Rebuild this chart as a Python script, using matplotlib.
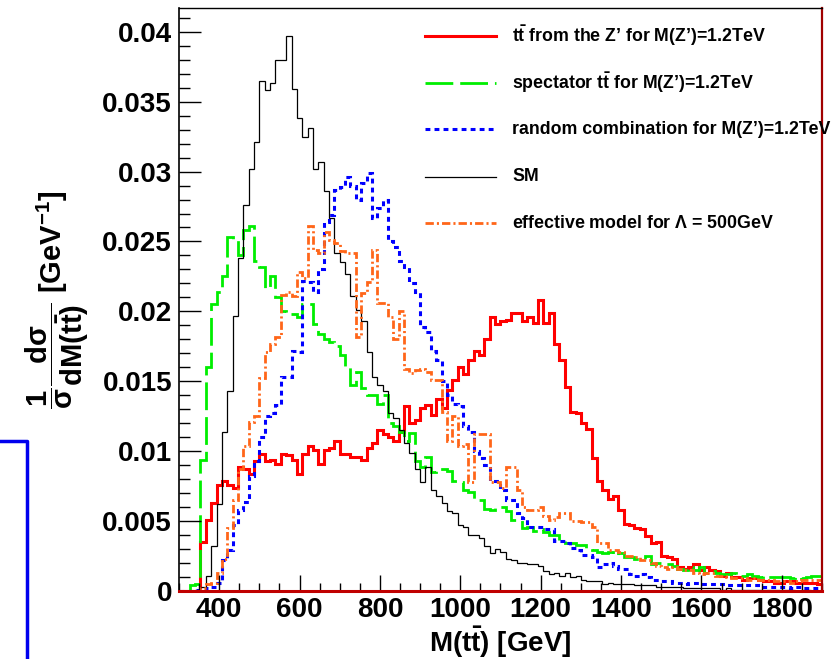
import numpy as np
import matplotlib
matplotlib.use("Agg")
import matplotlib.pyplot as plt
from matplotlib.ticker import MultipleLocator, FuncFormatter
from matplotlib.lines import Line2D

plt.rcParams['font.family'] = ['Liberation Sans', 'DejaVu Sans']
plt.rcParams['font.weight'] = 'bold'
plt.rcParams['mathtext.fontset'] = 'custom'
plt.rcParams['mathtext.rm'] = 'Liberation Sans:bold'
plt.rcParams['mathtext.it'] = 'Liberation Sans:bold'
plt.rcParams['mathtext.bf'] = 'Liberation Sans:bold'
plt.rcParams['mathtext.sf'] = 'Liberation Sans:bold'
plt.rcParams['lines.scale_dashes'] = False

# 120 bins of 13.33 GeV between 300 and 1900 GeV
edges = np.linspace(300, 1900, 121)

zprime = [
    0, 0, 0, 0, 0.0035, 0.0051, 0.0063, 0.0076, 0.0079, 0.0076,
    0.0074, 0.0089, 0.0087, 0.0084, 0.0093, 0.0098, 0.0093, 0.0094, 0.0091, 0.0098,
    0.0097, 0.0094, 0.0084, 0.0098, 0.0104, 0.0101, 0.0091, 0.0101, 0.0102, 0.0107,
    0.0098, 0.0098, 0.0096, 0.0096, 0.0094, 0.0102, 0.0106, 0.0115, 0.0112, 0.0110,
    0.0107, 0.0114, 0.0132, 0.0120, 0.0122, 0.0131, 0.0133, 0.0126, 0.0137, 0.0131,
    0.0144, 0.0151, 0.0160, 0.0155, 0.0165, 0.0172, 0.0169, 0.0180, 0.0196, 0.0191,
    0.0193, 0.0194, 0.0199, 0.0199, 0.0193, 0.0196, 0.0192, 0.0208, 0.0192, 0.0199,
    0.0177, 0.0165, 0.0146, 0.0128, 0.0127, 0.0120, 0.0116, 0.0095, 0.0079, 0.0072,
    0.0066, 0.0068, 0.0058, 0.0048, 0.0047, 0.0045, 0.0044, 0.0039, 0.0034, 0.0035,
    0.0025, 0.0024, 0.0023, 0.0017, 0.0016, 0.0017, 0.0019, 0.0015, 0.0017, 0.0015,
    0.0014, 0.0011, 0.0013, 0.0010, 0.0010, 0.0008, 0.0009, 0.0009, 0.0008, 0.0007,
    0.0007, 0.0006, 0.0006, 0.0007, 0.0007, 0.0006, 0.0006, 0.0006, 0.0006, 0.0005,
]

spectator = [
    0, 0, 0.0004, 0.0005, 0.0094, 0.0160, 0.0205, 0.0214, 0.0225, 0.0253,
    0.0252, 0.0240, 0.0258, 0.0261, 0.0236, 0.0232, 0.0217, 0.0225, 0.0210, 0.0200,
    0.0198, 0.0198, 0.0196, 0.0205, 0.0205, 0.0191, 0.0184, 0.0180, 0.0178, 0.0175,
    0.0169, 0.0160, 0.0147, 0.0157, 0.0145, 0.0140, 0.0140, 0.0134, 0.0140, 0.0120,
    0.0118, 0.0114, 0.0107, 0.0113, 0.0093, 0.0089, 0.0096, 0.0085, 0.0087, 0.0087,
    0.0086, 0.0079, 0.0078, 0.0072, 0.0071, 0.0065, 0.0065, 0.0059, 0.0058, 0.0060,
    0.0060, 0.0057, 0.0051, 0.0051, 0.0045, 0.0046, 0.0043, 0.0044, 0.0042, 0.0040,
    0.0040, 0.0036, 0.0034, 0.0034, 0.0033, 0.0033, 0.0031, 0.0029, 0.0028, 0.0027,
    0.0028, 0.0026, 0.0027, 0.0024, 0.0024, 0.0023, 0.0023, 0.0025, 0.0019, 0.0020,
    0.0019, 0.0019, 0.0018, 0.0016, 0.0015, 0.0017, 0.0015, 0.0017, 0.0013, 0.0014,
    0.0013, 0.0012, 0.0012, 0.0013, 0.0011, 0.0011, 0.0012, 0.0011, 0.0010, 0.0011,
    0.0010, 0.0010, 0.0010, 0.0010, 0.0009, 0.0010, 0.0009, 0.0010, 0.0011, 0.0011,
]

random_comb = [
    0, 0, 0, 0.0001, 0.0001, 0.0002, 0.0003, 0.0006, 0.0022, 0.0029,
    0.0047, 0.0058, 0.0064, 0.0082, 0.0093, 0.0110, 0.0125, 0.0127, 0.0133, 0.0153,
    0.0153, 0.0172, 0.0171, 0.0222, 0.0221, 0.0214, 0.0230, 0.0264, 0.0269, 0.0287,
    0.0289, 0.0296, 0.0290, 0.0280, 0.0292, 0.0299, 0.0267, 0.0274, 0.0280, 0.0250,
    0.0246, 0.0236, 0.0232, 0.0220, 0.0214, 0.0189, 0.0185, 0.0172, 0.0165, 0.0150,
    0.0140, 0.0134, 0.0132, 0.0118, 0.0114, 0.0100, 0.0095, 0.0090, 0.0079, 0.0079,
    0.0072, 0.0065, 0.0065, 0.0056, 0.0052, 0.0046, 0.0046, 0.0046, 0.0044, 0.0044,
    0.0036, 0.0036, 0.0034, 0.0031, 0.0029, 0.0026, 0.0026, 0.0024, 0.0017, 0.0019,
    0.0020, 0.0018, 0.0016, 0.0016, 0.0012, 0.0011, 0.0012, 0.0010, 0.0008, 0.0008,
    0.0007, 0.0007, 0.0006, 0.0006, 0.0005, 0.0006, 0.0006, 0.0005, 0.0005, 0.0005,
    0.0005, 0.0005, 0.0004, 0.0004, 0.0004, 0.0004, 0.0004, 0.0004, 0.0003, 0.0003,
    0.0003, 0.0003, 0.0003, 0.0003, 0.0002, 0.0003, 0.0002, 0.0002, 0.0002, 0.0002,
]

sm = [
    0, 0, 0, 0.0001, 0.0003, 0.0011, 0.0032, 0.0062, 0.0114, 0.0143,
    0.0197, 0.0238, 0.0276, 0.0302, 0.0321, 0.0365, 0.0358, 0.0363, 0.0380, 0.0380,
    0.0397, 0.0359, 0.0338, 0.0325, 0.0331, 0.0302, 0.0307, 0.0286, 0.0267, 0.0242,
    0.0235, 0.0227, 0.0211, 0.0201, 0.0193, 0.0171, 0.0153, 0.0147, 0.0143, 0.0127,
    0.0124, 0.0115, 0.0106, 0.0099, 0.0087, 0.0078, 0.0089, 0.0072, 0.0068, 0.0063,
    0.0057, 0.0056, 0.0047, 0.0046, 0.0040, 0.0040, 0.0038, 0.0032, 0.0027, 0.0030,
    0.0028, 0.0023, 0.0022, 0.0020, 0.0020, 0.0019, 0.0019, 0.0018, 0.0014, 0.0012,
    0.0013, 0.0011, 0.0013, 0.0010, 0.0011, 0.0008, 0.0007, 0.0007, 0.0007, 0.0005,
    0.0006, 0.0005, 0.0005, 0.0005, 0.0005, 0.0004, 0.0004, 0.0004, 0.0004, 0.0003,
    0.0003, 0.0003, 0.0003, 0.0003, 0.0002, 0.0002, 0.0002, 0.0002, 0.0002, 0.0002,
    0.0002, 0.0001, 0.0002, 0.0001, 0.0001, 0.0001, 0.0001, 0.0001, 0.0001, 0.0001,
    0.0001, 0.0001, 0.0001, 0.0001, 0.0001, 0.0000, 0.0001, 0.0001, 0.0000, 0.0000,
]

effective = [
    0, 0, 0, 0, 0.0002, 0.0005, 0.0006, 0.0013, 0.0023, 0.0045,
    0.0065, 0.0087, 0.0104, 0.0121, 0.0125, 0.0152, 0.0171, 0.0177, 0.0182, 0.0212,
    0.0214, 0.0211, 0.0228, 0.0224, 0.0261, 0.0244, 0.0242, 0.0257, 0.0251, 0.0249,
    0.0243, 0.0242, 0.0242, 0.0182, 0.0213, 0.0221, 0.0244, 0.0206, 0.0206, 0.0196,
    0.0180, 0.0200, 0.0159, 0.0156, 0.0158, 0.0159, 0.0157, 0.0151, 0.0151, 0.0128,
    0.0107, 0.0125, 0.0104, 0.0105, 0.0078, 0.0112, 0.0112, 0.0112, 0.0078, 0.0078,
    0.0074, 0.0089, 0.0089, 0.0072, 0.0060, 0.0058, 0.0058, 0.0060, 0.0054, 0.0051,
    0.0053, 0.0056, 0.0056, 0.0050, 0.0050, 0.0049, 0.0049, 0.0046, 0.0034, 0.0034,
    0.0029, 0.0029, 0.0028, 0.0025, 0.0025, 0.0024, 0.0022, 0.0022, 0.0020, 0.0018,
    0.0017, 0.0016, 0.0017, 0.0016, 0.0015, 0.0015, 0.0013, 0.0012, 0.0013, 0.0013,
    0.0011, 0.0011, 0.0010, 0.0009, 0.0009, 0.0009, 0.0008, 0.0009, 0.0008, 0.0008,
    0.0008, 0.0007, 0.0007, 0.0007, 0.0006, 0.0007, 0.0008, 0.0008, 0.0008, 0.0008,
]

labels = [
    r"$t\bar{t}$ from the Z’ for M(Z’)=1.2TeV",
    r"spectator $t\bar{t}$ for M(Z’)=1.2TeV",
    "random combination for M(Z’)=1.2TeV",
    "SM",
    r"effective model for $\Lambda$ = 500GeV",
]

# colour, width (pt), dash pattern
styles = [
    ('#ff0000', 2.2, '-'),
    ('#00ee00', 2.0, (0, (20, 5))),
    ('#0000ff', 2.2, (0, (3.5, 3))),
    ('#000000', 0.9, '-'),
    ('#ff6619', 2.0, (0, (6, 2.2, 1.5, 2.2))),
]
series = [zprime, spectator, random_comb, sm, effective]

fig = plt.figure(figsize=(8.37, 6.59), dpi=100)
ax = fig.add_axes([179 / 837, 1 - 591 / 659, 643 / 837, 583 / 659])

for vals, (col, lw, ls) in zip(series, styles):
    ax.stairs(vals, edges, baseline=0, color=col, linewidth=lw, linestyle=ls)

ax.set_xlim(300, 1900)
ax.set_ylim(0, 0.0417)

ax.xaxis.set_major_locator(MultipleLocator(200))
ax.xaxis.set_minor_locator(MultipleLocator(50))
ax.yaxis.set_major_locator(MultipleLocator(0.005))
ax.yaxis.set_minor_locator(MultipleLocator(0.001))
ax.yaxis.set_major_formatter(FuncFormatter(lambda v, p: '%g' % round(v, 4)))

ax.tick_params(axis='both', which='both', direction='in', top=False, right=False,
               labelsize=20, width=1)
ax.tick_params(axis='x', which='major', length=11.5, pad=4)
ax.tick_params(axis='x', which='minor', length=5.8)
ax.tick_params(axis='y', which='major', length=15.8, pad=5)
ax.tick_params(axis='y', which='minor', length=7.7)
for lab in ax.get_xticklabels() + ax.get_yticklabels():
    lab.set_fontweight('bold')

ax.spines['left'].set_linewidth(1.2)
ax.spines['top'].set_linewidth(1.0)
ax.spines['bottom'].set_color('#c00000')
ax.spines['bottom'].set_linewidth(2.2)
ax.spines['right'].set_color('#a00000')
ax.spines['right'].set_linewidth(1.6)

# axis titles
fig.text(500 / 837, 1 - 652 / 659, r"M($t\bar{t}$) [GeV]", ha='center', va='baseline',
         fontsize=20, fontweight='bold')
fig.text(57 / 837, 1 - 300 / 659,
         r"$\dfrac{1}{\sigma}\dfrac{d\sigma}{dM(t\bar{t})}$ [GeV$^{-1}$]",
         rotation=90, ha='center', va='center', fontsize=21, fontweight='bold')

# legend drawn by hand, entries in the order of the series
rows = [36, 82.7, 129.3, 176.7, 223.3]
for lab, (col, lw, ls), ry in zip(labels, styles, rows):
    yf = 1 - ry / 659
    fig.add_artist(Line2D([425 / 837, 496 / 837], [yf, yf], color=col, linewidth=lw,
                          linestyle=ls, transform=fig.transFigure))
    fig.text(512 / 837, yf, lab, fontsize=12.8, fontweight='bold', ha='left', va='center')

# stray blue frame at lower left
fig.add_artist(Line2D([0, 27 / 837, 27 / 837], [1 - 441 / 659, 1 - 441 / 659, 0],
                      color='#0000ee', linewidth=2.5, transform=fig.transFigure))

fig.savefig('out.png', dpi=100)
